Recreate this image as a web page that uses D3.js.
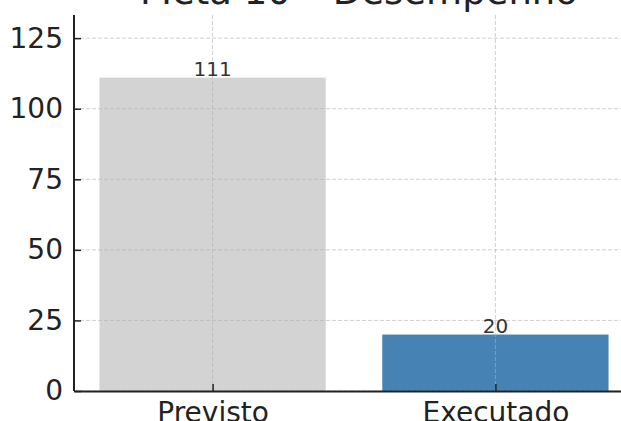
<!DOCTYPE html>
<html>
<head>
<meta charset="utf-8">
<script src="https://cdn.jsdelivr.net/npm/d3@7"></script>
<style>
  body { margin: 0; background: white; overflow: hidden; }
  svg { display: block; font-family: "DejaVu Sans", sans-serif; }
</style>
</head>
<body>
<div id="chart-container"></div>
<script>
// Data
const categories = ["Previsto", "Executado"];
const values = [111, 20];
const barColors = ["#d3d3d3", "#4682b4"];
const yTicks = [0, 25, 50, 75, 100, 125];
const title = "Meta 10 – Desempenho";

// Dimensions
const width = 621;
const height = 421;
const plot = { left: 74, right: 634, top: 15, bottom: 391 };

const svg = d3.select("#chart-container")
    .append("svg")
    .attr("width", width)
    .attr("height", height);

// Scales (matplotlib-like: bars at 0 and 1, width 0.8, 5% margins)
const x = d3.scaleLinear()
    .domain([-0.49, categories.length - 1 + 0.49])
    .range([plot.left, plot.right]);

const y = d3.scaleLinear()
    .domain([0, d3.max(values) * 1.2])
    .range([plot.bottom, plot.top]);

const barWidth = 0.8;

// Bars
svg.append("g")
    .selectAll("rect")
    .data(values)
    .enter()
    .append("rect")
    .attr("x", (d, i) => x(i - barWidth / 2))
    .attr("width", x(barWidth) - x(0))
    .attr("y", d => y(d))
    .attr("height", d => y(0) - y(d))
    .attr("fill", (d, i) => barColors[i]);

// Grid lines (dashed, drawn over the bars like in the reference)
svg.append("g")
    .selectAll("line")
    .data(categories)
    .enter()
    .append("line")
    .attr("x1", (d, i) => x(i))
    .attr("x2", (d, i) => x(i))
    .attr("y1", plot.top)
    .attr("y2", plot.bottom)
    .attr("stroke", "#b0b0b0")
    .attr("stroke-opacity", 0.6)
    .attr("stroke-dasharray", "4,2");

svg.append("g")
    .selectAll("line")
    .data(yTicks)
    .enter()
    .append("line")
    .attr("x1", plot.left)
    .attr("x2", plot.right)
    .attr("y1", d => y(d))
    .attr("y2", d => y(d))
    .attr("stroke", "#b0b0b0")
    .attr("stroke-opacity", 0.6)
    .attr("stroke-dasharray", "4,2");

// Value labels
svg.append("g")
    .selectAll("text")
    .data(values)
    .enter()
    .append("text")
    .attr("x", (d, i) => x(i))
    .attr("y", d => y(d) - 1.5)
    .attr("text-anchor", "middle")
    .style("font-size", "20px")
    .style("fill", "#333333")
    .text(d => d);

// Y axis (ticks pointing inward)
const yAxis = svg.append("g")
    .attr("transform", `translate(${plot.left},0)`)
    .call(d3.axisLeft(y).tickValues(yTicks).tickSizeInner(-7).tickSizeOuter(0).tickPadding(11));

// X axis
const xAxis = svg.append("g")
    .attr("transform", `translate(0,${plot.bottom})`)
    .call(d3.axisBottom(x).tickValues(d3.range(categories.length))
        .tickFormat(i => categories[i]).tickSizeInner(-7).tickSizeOuter(0).tickPadding(11));

[yAxis, xAxis].forEach(a => {
    a.select(".domain").attr("stroke", "#222222").attr("stroke-width", 2);
    a.selectAll(".tick line").attr("stroke", "#222222").attr("stroke-width", 1.5);
    a.selectAll(".tick text")
        .style("font-size", "28px")
        .style("font-family", "DejaVu Sans, sans-serif")
        .style("fill", "#222222");
});

// extend the y spine to the top of the plot
yAxis.select(".domain").attr("d", `M0,${plot.top}V${plot.bottom}`);

// Title (partially cut at the top, as in the reference)
svg.append("text")
    .attr("x", (plot.left + plot.right) / 2 + 5)
    .attr("y", 4)
    .attr("text-anchor", "middle")
    .style("font-size", "37px")
    .style("fill", "#222222")
    .text(title);
</script>
</body>
</html>
